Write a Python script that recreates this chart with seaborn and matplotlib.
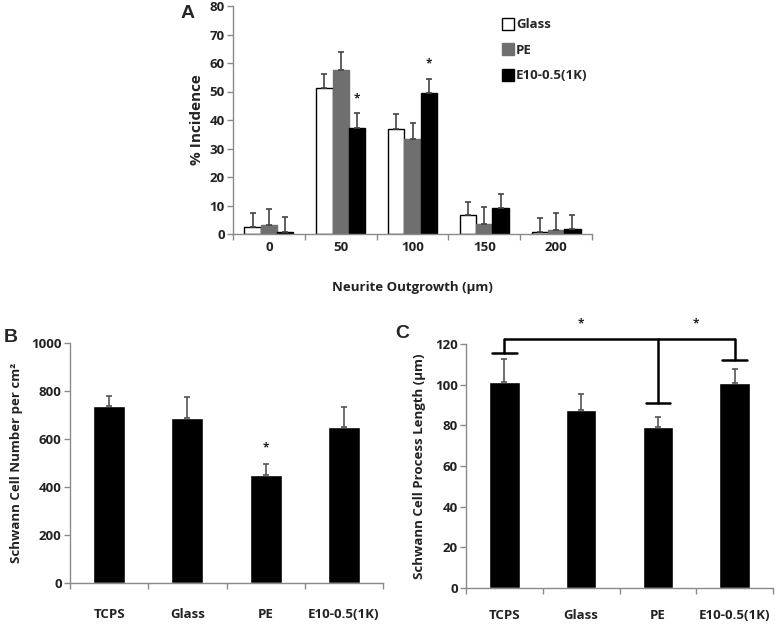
import numpy as np
import pandas as pd
import matplotlib
matplotlib.use("Agg")
import matplotlib.pyplot as plt
import seaborn as sns
from matplotlib.lines import Line2D

# panel A: neurite outgrowth distribution (% incidence)
outgrowth = ["0", "50", "100", "150", "200"]
groups = ["Glass", "PE", "E10-0.5(1K)"]
glass_pct = [2.5, 51.4, 37.0, 6.8, 0.7]
glass_err = [4.7, 4.9, 5.0, 4.6, 4.9]
pe_pct = [3.0, 57.7, 33.2, 3.4, 1.3]
pe_err = [5.9, 6.0, 5.9, 5.9, 6.0]
e10_pct = [0.8, 37.3, 49.3, 9.0, 1.7]
e10_err = [5.0, 5.0, 5.2, 5.2, 4.8]
stars_a = [(1, 47.5), (2, 59.7)]  # (category, height) above E10 bars

# panel B / C
substrates = ["TCPS", "Glass", "PE", "E10-0.5(1K)"]
cell_number = [737, 688, 448, 650]
cell_number_err = [43, 87, 48, 84]
process_len = [101.5, 87.5, 79.0, 100.8]
process_len_err = [11.0, 8.0, 5.0, 7.0]

sns.set_theme(style="white")
plt.rcParams["font.family"] = ["Open Sans", "DejaVu Sans"]
plt.rcParams["font.weight"] = "bold"
plt.rcParams["axes.labelweight"] = "bold"

spine_col = "#8a8a8a"
txt_col = "#222222"
err_col = "#444444"
fs = 9.5

fig = plt.figure(figsize=(7.77, 6.25), dpi=100)
W, H = 777, 625


def px_axes(l, t, r, b):
    return fig.add_axes([l / W, 1 - b / H, (r - l) / W, (b - t) / H])


def style_axes(ax, labels, pad):
    sns.despine(ax=ax)
    for s in ["left", "bottom"]:
        ax.spines[s].set_color(spine_col)
        ax.spines[s].set_linewidth(1.0)
    n = len(labels)
    ax.set_xlim(-0.5, n - 0.5)
    ax.set_xticks(np.arange(-0.5, n), [""] * (n + 1))
    ax.set_xticks(np.arange(n), labels, minor=True)
    ax.tick_params(axis="x", which="major", direction="out", length=4,
                   color=spine_col, width=1, bottom=True)
    ax.tick_params(axis="x", which="minor", length=0, pad=pad,
                   labelsize=fs, labelcolor=txt_col)
    ax.tick_params(axis="y", direction="out", length=4, color=spine_col,
                   width=1, left=True, labelsize=fs, labelcolor=txt_col, pad=2)
    for t in ax.get_xticklabels(minor=True) + ax.get_yticklabels():
        t.set_fontweight("bold")
    ax.set_xlabel("")


# ---------------- A ----------------
axA = px_axes(233, 6, 592, 234)
dfA = pd.DataFrame({
    "outgrowth": outgrowth * 3,
    "group": [g for g in groups for _ in outgrowth],
    "pct": glass_pct + pe_pct + e10_pct,
    "err": glass_err + pe_err + e10_err,
})
palA = {"Glass": "white", "PE": "#6f6f6f", "E10-0.5(1K)": "black"}
sns.barplot(data=dfA, x="outgrowth", y="pct", hue="group", order=outgrowth,
            hue_order=groups, palette=palA, width=0.68, errorbar=None,
            legend=False, saturation=1, ax=axA)
for cont, g in zip(axA.containers, groups):
    sub = dfA[dfA["group"] == g]
    xs = [p.get_x() + p.get_width() / 2 for p in cont]
    for p in cont:
        p.set_edgecolor("black" if g != "PE" else "#6f6f6f")
        p.set_linewidth(1.0)
    axA.errorbar(xs, sub["pct"], yerr=[np.zeros(len(sub)), sub["err"]],
                 fmt="none", ecolor=err_col, elinewidth=1.2, capsize=2.5,
                 capthick=1.2, zorder=3)
e10_cont = axA.containers[2]
for i, h in stars_a:
    p = e10_cont[i]
    axA.text(p.get_x() + p.get_width() / 2, h, "*", ha="center", va="center",
             fontsize=8.5, fontweight="bold", color=txt_col)
axA.set_ylim(0, 80)
axA.set_yticks(range(0, 81, 10))
style_axes(axA, outgrowth, 5)
axA.set_ylabel("% Incidence", fontsize=11, color=txt_col, labelpad=4)
axA.text(0.5, -0.235, "Neurite Outgrowth (\u00b5m)", transform=axA.transAxes,
         ha="center", va="center", fontsize=fs, fontweight="bold", color=txt_col)

handles = [Line2D([], [], marker="s", linestyle="none", markersize=8,
                  markerfacecolor=palA[g],
                  markeredgecolor="black" if g != "PE" else "#6f6f6f",
                  markeredgewidth=1.0) for g in groups]
fig.legend(handles, groups, loc="upper left", bbox_to_anchor=(0.632, 0.99),
           frameon=False, handlelength=0.8, handletextpad=0.2,
           labelspacing=0.95, prop={"weight": "bold", "size": fs})

# ---------------- B ----------------
axB = px_axes(70, 343, 383, 583)
dfB = pd.DataFrame({"substrate": substrates, "val": cell_number,
                    "err": cell_number_err})
sns.barplot(data=dfB, x="substrate", y="val", color="black", width=0.41,
            errorbar=None, saturation=1, ax=axB)
xsB = [p.get_x() + p.get_width() / 2 for p in axB.containers[0]]
axB.errorbar(xsB, dfB["val"], yerr=[np.zeros(4), dfB["err"]], fmt="none",
             ecolor="#555555", elinewidth=1.2, capsize=2, capthick=1.2, zorder=3)
axB.text(xsB[2], 562, "*", ha="center", va="center", fontsize=8.5,
         fontweight="bold", color=txt_col)
axB.set_ylim(0, 1000)
axB.set_yticks(range(0, 1001, 200))
style_axes(axB, substrates, 18)
axB.set_ylabel("Schwann Cell Number per cm\u00b2", fontsize=fs, color=txt_col,
               labelpad=6)

# ---------------- C ----------------
axC = px_axes(466, 344, 773, 588)
dfC = pd.DataFrame({"substrate": substrates, "val": process_len,
                    "err": process_len_err})
sns.barplot(data=dfC, x="substrate", y="val", color="black", width=0.40,
            errorbar=None, saturation=1, ax=axC)
xsC = [p.get_x() + p.get_width() / 2 for p in axC.containers[0]]
axC.errorbar(xsC, dfC["val"], yerr=[np.zeros(4), dfC["err"]], fmt="none",
             ecolor="#555555", elinewidth=1.2, capsize=2, capthick=1.2, zorder=3)
axC.set_ylim(0, 120)
axC.set_yticks(range(0, 121, 20))
style_axes(axC, substrates, 15)
axC.set_ylabel("Schwann Cell Process Length (\u00b5m)", fontsize=fs,
               color=txt_col, labelpad=6)

# significance bracket
top = 122.5
drops = {0: 115.5, 2: 91.0, 3: 112.0}
axC.plot([xsC[0], xsC[3]], [top, top], color="black", lw=1.8,
         clip_on=False, solid_capstyle="butt")
for i, lo in drops.items():
    axC.plot([xsC[i], xsC[i]], [top, lo], color="black", lw=1.8, clip_on=False)
    axC.plot([xsC[i] - 0.16, xsC[i] + 0.16], [lo, lo], color="black", lw=1.8,
             clip_on=False)
for xm in [(xsC[0] + xsC[2]) / 2, (xsC[2] + xsC[3]) / 2]:
    axC.text(xm, 130, "*", ha="center", va="center", fontsize=8.5,
             fontweight="bold", color=txt_col, clip_on=False)

# panel letters
fig.text(188 / W, 1 - 13 / H, "A", fontsize=14, fontweight="bold",
         family="Liberation Sans", ha="center", va="center")
fig.text(11 / W, 1 - 338 / H, "B", fontsize=14, fontweight="bold",
         family="Liberation Sans", ha="center", va="center")
fig.text(402 / W, 1 - 334 / H, "C", fontsize=14, fontweight="bold",
         family="Liberation Sans", ha="center", va="center")

plt.savefig("out.png", dpi=100)
